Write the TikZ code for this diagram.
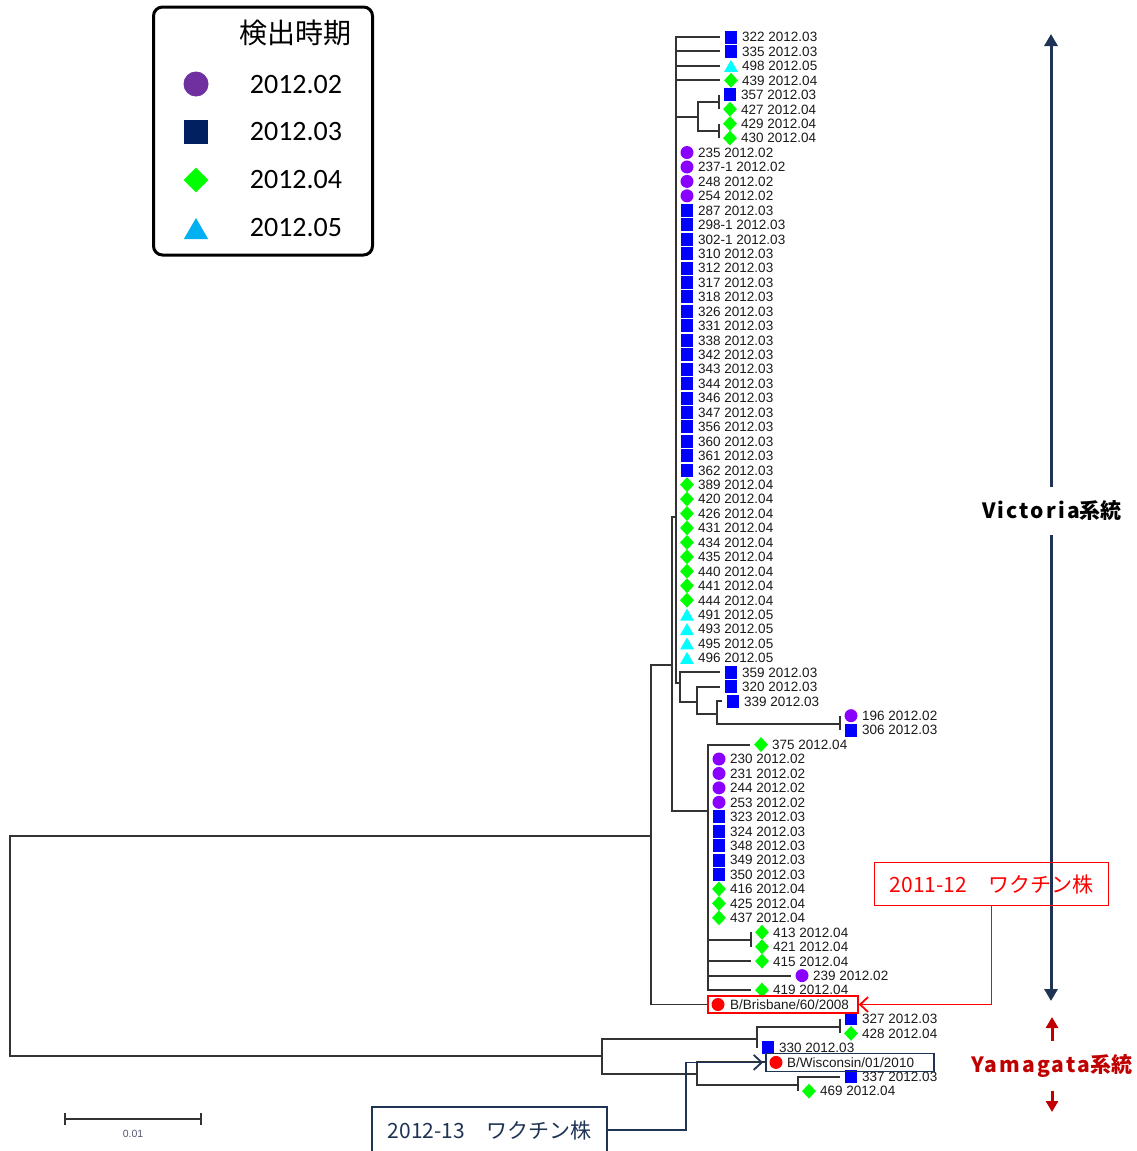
\documentclass[tikz,border=0pt]{standalone}
\usepackage{fontspec}
\setmainfont{Liberation Sans}
\newfontfamily\cjk{Noto Sans CJK JP}
\newfontfamily\cjkwide[LetterSpace=10]{Noto Sans CJK JP}
\newfontfamily\legfont{Carlito}
\usetikzlibrary{shapes.geometric,arrows.meta}
\definecolor{treeline}{HTML}{333333}
\definecolor{labelc}{HTML}{1A1A1A}
\definecolor{mviolet}{HTML}{8A00FF}
\definecolor{mblue}{HTML}{0000FF}
\definecolor{mgreen}{HTML}{00FF00}
\definecolor{mcyan}{HTML}{00FFFF}
\definecolor{navyc}{HTML}{1F3354}
\definecolor{yred}{HTML}{C00000}
\definecolor{lpurple}{HTML}{7030A0}
\definecolor{lnavy}{HTML}{002060}
\definecolor{lcyan}{HTML}{00B0F0}
\definecolor{sbc}{HTML}{505870}
\tikzset{
  branch/.style={draw=treeline, line width=1.9pt},
  mk/.style={inner sep=0pt, draw=none},
  mcirc/.style={mk, circle, fill=mviolet, minimum size=13pt},
  msq/.style={mk, rectangle, fill=mblue, minimum width=12pt, minimum height=13pt},
  mdia/.style={mk, diamond, fill=mgreen, minimum width=14pt, minimum height=15pt},
  mtri/.style={mk, regular polygon, regular polygon sides=3, fill=mcyan, minimum size=16pt, yshift=-2pt},
  mred/.style={mk, circle, fill=red, minimum size=13pt},
  lbl/.style={inner sep=0pt, anchor=west, font=\fontsize{13.5}{14}\selectfont, text=labelc, text height=9.7pt, text depth=0pt},
  legtxt/.style={font=\legfont\fontsize{28}{30}\selectfont, inner sep=0pt},
  callout/.style={line width=1.8pt, inner sep=0pt, font=\cjk\fontsize{21}{24}\selectfont},
}
\begin{document}
\begin{tikzpicture}[x=1pt, y=-1pt]
\useasboundingbox (0,0) rectangle (1137,1151);

% ---------- leaves ----------
\foreach \i/\xe/\m/\lab in {
 1/720/msq/322 2012.03, 2/720/msq/335 2012.03, 3/720/mtri/498 2012.05, 4/720/mdia/439 2012.04,
 5/719/msq/357 2012.03, 6/719/mdia/427 2012.04, 7/719/mdia/429 2012.04, 8/719/mdia/430 2012.04,
 9/676/mcirc/235 2012.02, 10/676/mcirc/237-1 2012.02, 11/676/mcirc/248 2012.02, 12/676/mcirc/254 2012.02,
 13/676/msq/287 2012.03, 14/676/msq/298-1 2012.03, 15/676/msq/302-1 2012.03, 16/676/msq/310 2012.03,
 17/676/msq/312 2012.03, 18/676/msq/317 2012.03, 19/676/msq/318 2012.03, 20/676/msq/326 2012.03,
 21/676/msq/331 2012.03, 22/676/msq/338 2012.03, 23/676/msq/342 2012.03, 24/676/msq/343 2012.03,
 25/676/msq/344 2012.03, 26/676/msq/346 2012.03, 27/676/msq/347 2012.03, 28/676/msq/356 2012.03,
 29/676/msq/360 2012.03, 30/676/msq/361 2012.03, 31/676/msq/362 2012.03,
 32/676/mdia/389 2012.04, 33/676/mdia/420 2012.04, 34/676/mdia/426 2012.04, 35/676/mdia/431 2012.04,
 36/676/mdia/434 2012.04, 37/676/mdia/435 2012.04, 38/676/mdia/440 2012.04, 39/676/mdia/441 2012.04,
 40/676/mdia/444 2012.04,
 41/676/mtri/491 2012.05, 42/676/mtri/493 2012.05, 43/676/mtri/495 2012.05, 44/676/mtri/496 2012.05,
 45/720/msq/359 2012.03, 46/720/msq/320 2012.03, 47/722/msq/339 2012.03,
 48/840/mcirc/196 2012.02, 49/840/msq/306 2012.03,
 50/750/mdia/375 2012.04,
 51/708/mcirc/230 2012.02, 52/708/mcirc/231 2012.02, 53/708/mcirc/244 2012.02, 54/708/mcirc/253 2012.02,
 55/708/msq/323 2012.03, 56/708/msq/324 2012.03, 57/708/msq/348 2012.03, 58/708/msq/349 2012.03,
 59/708/msq/350 2012.03,
 60/708/mdia/416 2012.04, 61/708/mdia/425 2012.04, 62/708/mdia/437 2012.04,
 63/751/mdia/413 2012.04, 64/751/mdia/421 2012.04, 65/751/mdia/415 2012.04,
 66/791/mcirc/239 2012.02, 67/751/mdia/419 2012.04,
 69/840/msq/327 2012.03, 70/840/mdia/428 2012.04, 71/757/msq/330 2012.03,
 73/840/msq/337 2012.03, 74/798/mdia/469 2012.04}{
  \pgfmathsetmacro\yy{37+(\i-1)*14.44}
  \coordinate (e\i) at (\xe,\yy);
  \node[\m] (m\i) at (\xe+11,\yy) {};
  \node[lbl] (t\i) at (\xe+22,\yy) {\lab};
}

% vaccine strains
\coordinate (e68) at (707,1004.5);
\node[draw=red, line width=1.8pt, minimum width=150pt, minimum height=17pt, anchor=west, inner sep=0pt] (bris) at (707,1004.5) {};
\node[mred] (m68) at (718,1004.5) {};
\node[lbl] (t68) at (730,1004.5) {B/Brisbane/60/2008};

\coordinate (e72) at (765,1062.4);
\node[draw=navyc, line width=1.8pt, minimum width=168pt, minimum height=18pt, anchor=west, inner sep=0pt] (wisc) at (765,1062.4) {};
\node[mred] (m72) at (776,1062.4) {};
\node[lbl] (t72) at (787,1062.4) {B/Wisconsin/01/2010};

% ---------- internal nodes ----------
\coordinate (R) at (10,946);
\coordinate (V) at (651,836);
\coordinate (Y) at (602,1056);
\coordinate (N672) at (672,665);
\coordinate (N676) at (676,517);
\coordinate (N698) at (698,117);
\coordinate (B1) at (719,102);
\coordinate (B2) at (719,131);
\coordinate (N680) at (680,683);
\coordinate (N697) at (697,702);
\coordinate (N717) at (717,714);
\coordinate (N840) at (840,724);
\coordinate (N708) at (708,811);
\coordinate (B3) at (751,940);
\coordinate (N757) at (757,1039);
\coordinate (B4) at (840,1027);
\coordinate (N697b) at (697,1074);
\coordinate (N798) at (798,1085);

\foreach \p/\c in {R/V, R/Y, V/N672, V/e68, N672/N676, N672/N708,
  N676/e1, N676/e2, N676/e3, N676/e4, N676/N698, N676/N680,
  N698/B1, N698/B2, B1/e5, B1/e6, B2/e7, B2/e8,
  N680/e45, N680/N697, N697/e46, N697/N717, N717/e47, N717/N840, N840/e48, N840/e49,
  N708/e50, N708/B3, N708/e65, N708/e66, N708/e67, B3/e63, B3/e64,
  Y/N757, Y/N697b, N757/B4, N757/e71, B4/e69, B4/e70,
  N697b/e72, N697b/N798, N798/e73, N798/e74}{
  \draw[branch] (\p) |- (\c);
}
\foreach \k in {9,...,44}{\draw[branch] (N676) |- (e\k);}
\foreach \k in {51,...,62}{\draw[branch] (N708) |- (e\k);}

% ---------- scale bar ----------
\coordinate (sb1) at (64,1119);
\coordinate (sb2) at (202,1119);
\draw[treeline, line width=1.8pt, {Bar[width=12pt]}-{Bar[width=12pt]}] (sb1) -- (sb2);
\node[font=\fontsize{10.5}{12}\selectfont, text=sbc, inner sep=0pt] (sbl) at (133,1134) {0.01};

% ---------- legend ----------
\node[draw=black, line width=3pt, rounded corners=9pt, minimum width=219pt, minimum height=248pt, inner sep=0pt] (legend) at (263,131) {};
\node[font=\cjk\fontsize{28}{30}\selectfont, inner sep=0pt] (legtitle) at (295,33) {検出時期};
\node[mk, circle, fill=lpurple, minimum size=25pt] (lg1) at (196,84) {};
\node[mk, rectangle, fill=lnavy, minimum size=24pt] (lg2) at (196,132) {};
\node[mk, diamond, fill=mgreen, minimum size=25pt] (lg3) at (196,180) {};
\node[mk, regular polygon, regular polygon sides=3, fill=lcyan, minimum size=28pt] (lg4) at (196,232) {};
\node[legtxt] (lt1) at (296,85) {2012.02};
\node[legtxt] (lt2) at (296,132) {2012.03};
\node[legtxt] (lt3) at (296,180) {2012.04};
\node[legtxt] (lt4) at (296,228) {2012.05};

% ---------- lineage arrows ----------
\coordinate (vtop) at (1051,34);
\coordinate (vbot) at (1051,1001);
\node[inner sep=0pt, minimum height=48pt, font=\fontsize{21}{24}\selectfont] (vic) at (1052,511) {{\cjkwide\bfseries Victoria}{\cjk\bfseries 系統}};
\draw[navyc, line width=3pt, -{Triangle[length=12pt,width=13pt]}] (vic.north -| vtop) -- (vtop);
\draw[navyc, line width=3pt, -{Triangle[length=12pt,width=13pt]}] (vic.south -| vbot) -- (vbot);

\coordinate (ytop) at (1052,1017);
\coordinate (ybot) at (1052,1112);
\node[inner sep=0pt, minimum height=50pt, text=yred, font=\fontsize{21}{24}\selectfont] (yam) at (1052,1066) {{\cjkwide\bfseries Yamagata}{\cjk\bfseries 系統}};
\draw[yred, line width=3pt, -{Triangle[length=11pt,width=12pt]}] (yam.north) -- (ytop);
\draw[yred, line width=3pt, -{Triangle[length=11pt,width=12pt]}] (yam.south) -- (ybot);

% ---------- vaccine callouts ----------
\node[callout, draw=red, text=red, minimum width=234pt, minimum height=43pt] (vac12) at (991.5,884) {2011-12　ワクチン株};
\draw[red, line width=1.8pt, -{Straight Barb[length=8pt,width=15pt]}] (vac12.south) |- (bris.east);

\node[callout, draw=navyc, text=navyc, minimum width=235pt, minimum height=46pt] (vac13) at (489.5,1130) {2012-13　ワクチン株};
\coordinate (k13) at (686,1130);
\draw[navyc, line width=1.8pt, -{Straight Barb[length=8pt,width=15pt]}, shorten >=2pt] (vac13.east) -- (k13) |- (wisc.west);
\end{tikzpicture}
\end{document}
